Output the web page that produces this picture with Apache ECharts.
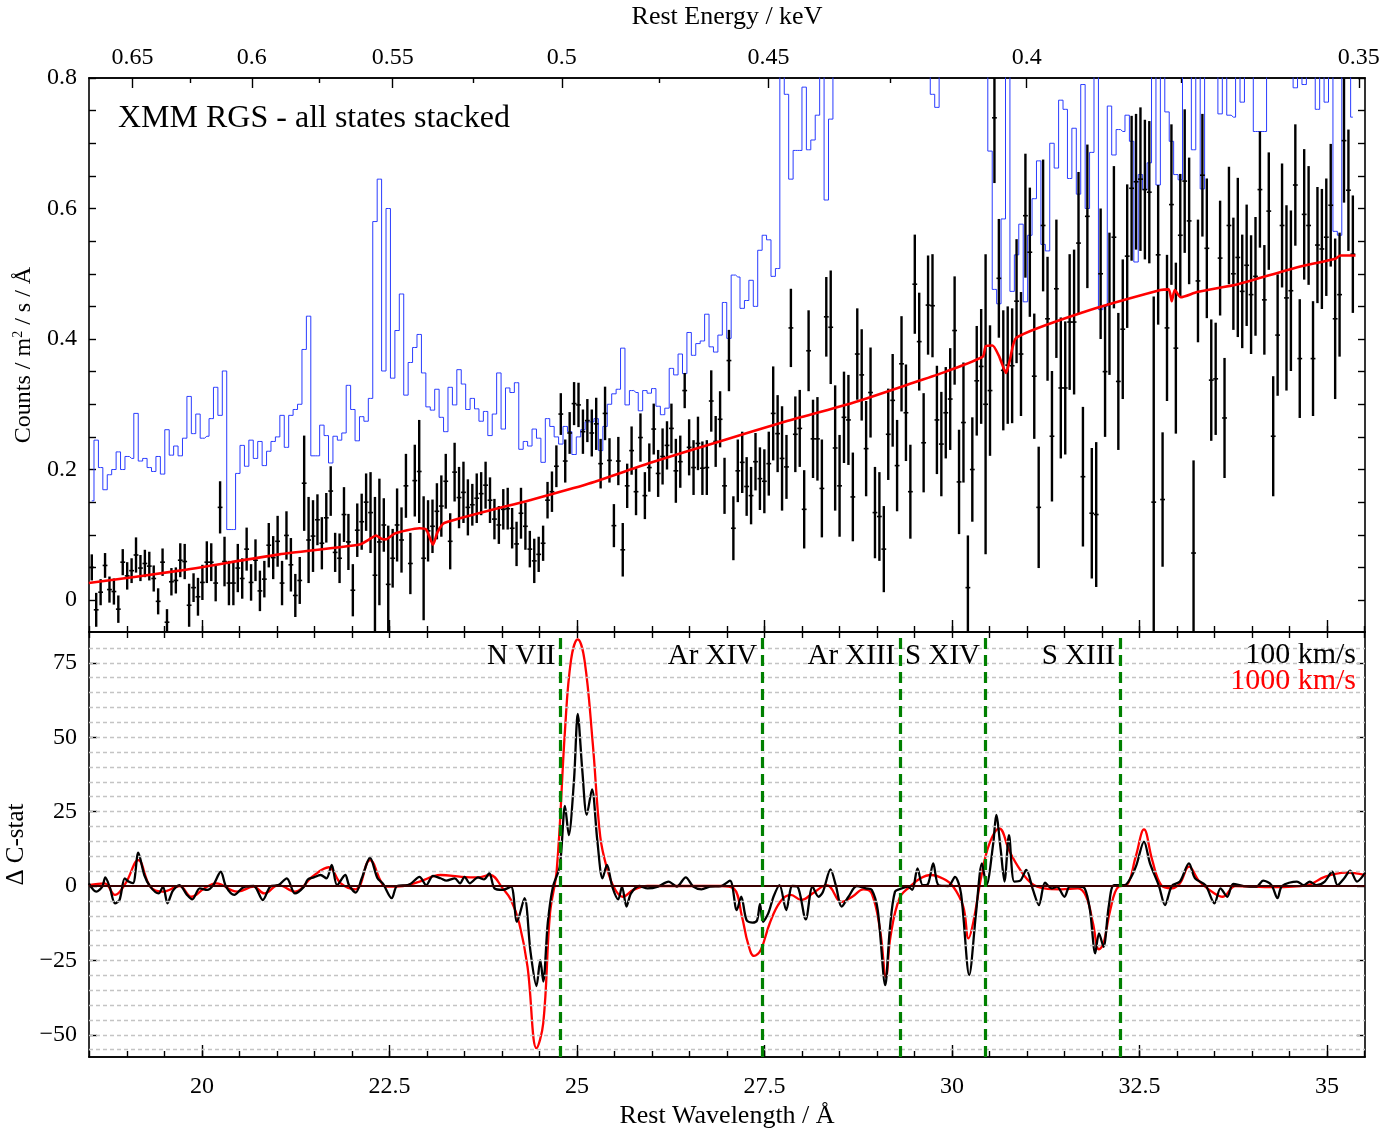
<!DOCTYPE html>
<html>
<head>
<meta charset="utf-8">
<script src="https://cdn.jsdelivr.net/npm/echarts@6/dist/echarts.min.js"></script>
<style>html,body{margin:0;padding:0;background:#fff}#c{width:1387px;height:1129px}</style>
</head>
<body>
<div id="c"></div>
<script>
// ---------- DATA ----------
const binWave = [
18.530,18.589,18.648,18.707,18.766,18.825,18.884,18.943,19.002,19.061,
19.120,19.179,19.238,19.297,19.356,19.415,19.474,19.533,19.592,19.651,
19.710,19.769,19.828,19.887,19.946,20.005,20.064,20.123,20.182,20.241,
20.300,20.359,20.418,20.477,20.536,20.595,20.654,20.713,20.772,20.831,
20.890,20.949,21.008,21.067,21.126,21.185,21.244,21.303,21.362,21.421,
21.480,21.539,21.598,21.657,21.716,21.775,21.834,21.893,21.952,22.011,
22.070,22.129,22.188,22.247,22.306,22.365,22.424,22.483,22.542,22.601,
22.660,22.719,22.778,22.837,22.896,22.955,23.014,23.073,23.132,23.191,
23.250,23.309,23.368,23.427,23.486,23.545,23.604,23.663,23.722,23.781,
23.840,23.899,23.958,24.017,24.076,24.135,24.194,24.253,24.312,24.371,
24.430,24.489,24.548,24.607,24.666,24.725,24.784,24.843,24.902,24.961,
25.020,25.079,25.138,25.197,25.256,25.315,25.374,25.433,25.492,25.551,
25.610,25.669,25.728,25.787,25.846,25.905,25.964,26.023,26.082,26.141,
26.200,26.259,26.318,26.377,26.436,26.495,26.554,26.613,26.672,26.731,
26.790,26.849,26.908,26.967,27.026,27.085,27.144,27.203,27.262,27.321,
27.380,27.439,27.498,27.557,27.616,27.675,27.734,27.793,27.852,27.911,
27.970,28.029,28.088,28.147,28.206,28.265,28.324,28.383,28.442,28.501,
28.560,28.619,28.678,28.737,28.796,28.855,28.914,28.973,29.032,29.091,
29.150,29.209,29.268,29.327,29.386,29.445,29.504,29.563,29.622,29.681,
29.740,29.799,29.858,29.917,29.976,30.035,30.094,30.153,30.212,30.271,
30.330,30.389,30.448,30.507,30.566,30.625,30.684,30.743,30.802,30.861,
30.920,30.979,31.038,31.097,31.156,31.215,31.274,31.333,31.392,31.451,
31.510,31.569,31.628,31.687,31.746,31.805,31.864,31.923,31.982,32.041,
32.100,32.159,32.218,32.277,32.336,32.395,32.454,32.513,32.572,32.631,
32.690,32.749,32.808,32.867,32.926,32.985,33.044,33.103,33.162,33.221,
33.280,33.339,33.398,33.457,33.516,33.575,33.634,33.693,33.752,33.811,
33.870,33.929,33.988,34.047,34.106,34.165,34.224,34.283,34.342,34.401,
34.460,34.519,34.578,34.637,34.696,34.755,34.814,34.873,34.932,34.991,
35.050,35.109,35.168,35.227,35.286,35.345];

const srcRate = [
0.050,-0.015,0.012,0.053,0.016,0.013,-0.014,0.058,0.037,0.045,
0.069,0.049,0.056,0.052,0.033,-0.002,0.058,-0.034,0.028,0.030,
0.061,0.059,-0.008,0.019,0.005,0.027,0.058,0.058,0.026,0.142,
0.059,0.026,0.026,0.049,0.033,0.078,0.027,0.061,0.014,0.032,
0.084,0.065,0.090,0.026,0.099,0.054,0.007,0.030,0.179,0.092,
0.098,0.123,0.087,0.126,0.167,0.073,0.064,0.131,0.089,0.015,
0.107,0.120,0.150,0.134,0.038,0.089,0.115,0.024,0.064,0.115,
0.092,0.175,0.056,0.183,0.197,0.064,0.106,0.113,0.136,0.144,
0.182,0.090,0.196,0.157,0.165,0.142,0.146,0.156,0.163,0.176,
0.153,0.124,0.115,0.139,0.140,0.110,0.086,0.133,0.113,0.078,
0.060,0.070,0.087,0.153,0.166,0.205,0.285,0.213,0.256,0.301,
0.299,0.258,0.275,0.256,0.270,0.209,0.286,0.214,0.114,0.213,
0.077,0.175,0.229,0.166,0.249,0.160,0.203,0.262,0.194,0.220,
0.237,0.263,0.198,0.212,0.321,0.234,0.203,0.240,0.202,0.203,
0.305,0.243,0.277,0.175,0.367,0.110,0.198,0.211,0.174,0.160,
0.212,0.186,0.182,0.209,0.286,0.255,0.217,0.204,0.417,0.254,
0.263,0.139,0.382,0.247,0.247,0.171,0.434,0.418,0.233,0.175,
0.280,0.276,0.158,0.377,0.345,0.232,0.318,0.134,0.128,0.078,
0.254,0.306,0.206,0.362,0.287,0.166,0.484,0.396,0.241,0.452,
0.451,0.276,0.239,0.287,0.308,0.413,0.181,0.272,0.019,0.200,
0.336,0.358,0.300,0.321,0.739,0.493,0.352,0.360,0.359,0.458,
0.377,0.589,0.533,0.343,0.142,0.574,0.431,0.251,0.477,0.325,
0.325,0.426,0.426,0.547,0.189,0.588,0.133,0.131,0.500,0.350,
0.454,0.556,0.335,0.415,0.527,0.631,0.641,0.645,0.629,0.625,
0.150,0.529,0.154,0.417,0.606,0.386,0.559,0.642,0.581,0.072,
0.489,0.651,0.539,0.337,0.339,0.524,0.279,0.574,0.500,0.525,
0.473,0.513,0.468,0.496,0.629,0.460,0.596,0.251,0.406,0.574,
0.463,0.474,0.636,0.370,0.591,0.574,0.370,0.544,0.538,0.556,
0.605,0.431,0.468,0.704,0.628,0.530];

const srcErr = [
.020,.026,.020,.019,.020,.020,.021,.020,.021,.019,
.027,.020,.021,.022,.020,.020,.021,.020,.021,.020,
.026,.027,.033,.022,.029,.027,.032,.029,.028,.040,
.038,.034,.034,.037,.031,.033,.028,.032,.031,.028,
.034,.033,.039,.034,.037,.041,.033,.036,.073,.066,
.055,.039,.040,.038,.038,.030,.038,.042,.043,.040,
.041,.043,.044,.062,.120,.097,.041,.090,.045,.056,
.050,.049,.047,.055,.079,.095,.047,.041,.043,.047,
.042,.043,.045,.047,.047,.043,.032,.038,.033,.036,
.035,.031,.029,.031,.032,.031,.034,.039,.036,.028,
.034,.027,.027,.028,.031,.032,.032,.033,.032,.033,
.034,.034,.033,.036,.040,.038,.041,.034,.033,.037,
.041,.034,.037,.036,.037,.036,.037,.039,.036,.043,
.037,.038,.049,.040,.027,.043,.042,.041,.041,.042,
.047,.039,.043,.043,.047,.049,.048,.047,.045,.044,
.044,.048,.049,.049,.072,.059,.080,.049,.060,.058,
.059,.060,.062,.060,.064,.075,.061,.087,.096,.078,
.070,.069,.068,.070,.070,.073,.069,.070,.068,.066,
.070,.071,.070,.073,.074,.072,.076,.075,.076,.076,
.079,.083,.080,.070,.078,.083,.080,.092,.080,.080,
.084,.088,.230,.100,.100,.091,.092,.090,.088,.095,
.095,.095,.099,.096,.093,.101,.095,.100,.106,.108,
.102,.104,.111,.109,.107,.110,.100,.111,.100,.100,
.109,.109,.105,.107,.110,.111,.104,.110,.107,.109,
.315,.107,.103,.112,.123,.131,.094,.110,.097,.142,
.094,.094,.107,.093,.086,.088,.092,.090,.086,.122,
.087,.093,.091,.091,.089,.084,.090,.092,.093,.095,
.142,.123,.093,.091,.100,.091,.088,.089,.092,.090,
.094,.123,.095,.095,.093,.090];

const bgRate = [
0.152,0.245,0.203,0.169,0.192,0.200,0.227,0.200,0.220,0.217,
0.286,0.213,0.217,0.203,0.197,0.220,0.193,0.261,0.222,0.236,
0.221,0.248,0.312,0.255,0.285,0.248,0.251,0.278,0.326,0.283,
0.351,0.108,0.108,0.194,0.237,0.205,0.245,0.217,0.243,0.206,
0.228,0.243,0.250,0.283,0.234,0.283,0.292,0.300,0.384,0.435,
0.221,0.221,0.268,0.252,0.210,0.251,0.245,0.256,0.329,0.292,
0.244,0.281,0.274,0.309,0.580,0.645,0.351,0.600,0.340,0.413,
0.469,0.314,0.364,0.387,0.407,0.348,0.296,0.291,0.323,0.280,
0.258,0.326,0.299,0.353,0.331,0.292,0.309,0.293,0.274,0.289,
0.252,0.285,0.348,0.262,0.325,0.318,0.333,0.231,0.243,0.236,
0.262,0.248,0.211,0.278,0.266,0.250,0.239,0.266,0.258,0.223,
0.250,0.261,0.273,0.273,0.278,0.229,0.266,0.300,0.316,0.323,
0.386,0.299,0.321,0.318,0.290,0.321,0.317,0.324,0.297,0.284,
0.294,0.355,0.345,0.377,0.347,0.410,0.375,0.393,0.397,0.438,
0.388,0.380,0.406,0.456,0.401,0.498,0.495,0.447,0.459,0.490,
0.450,0.536,0.559,0.552,0.496,0.508,0.950,0.775,0.645,0.689,
0.689,0.786,0.690,0.705,0.743,0.950,0.613,0.737,0.950,0.950,
0.950,0.950,0.950,0.950,0.950,0.950,0.950,0.950,0.950,0.950,
0.950,0.950,0.950,0.950,0.950,0.950,0.950,0.950,0.950,0.950,
0.775,0.755,0.950,0.950,0.950,0.950,0.950,0.950,0.950,0.950,
0.950,0.950,0.950,0.688,0.476,0.454,0.584,0.950,0.473,0.529,
0.576,0.457,0.559,0.615,0.673,0.545,0.535,0.700,0.662,0.766,
0.752,0.646,0.723,0.622,0.790,0.600,0.686,0.950,0.445,0.450,
0.757,0.682,0.721,0.718,0.743,0.703,0.518,0.652,0.629,0.670,
0.950,0.636,0.950,0.748,0.703,0.652,0.644,0.950,0.950,0.690,
0.950,0.630,0.950,0.950,0.950,0.745,0.950,0.743,0.740,0.950,
0.763,0.950,0.950,0.718,0.718,0.718,0.950,0.950,0.950,0.950,
0.950,0.950,0.785,0.950,0.790,0.950,0.950,0.752,0.950,0.763,
0.950,0.565,0.559,0.950,0.950,0.740];

const modelWave = [18.49,19.70,21.03,22.10,22.23,22.32,22.39,22.45,22.57,22.90,22.99,23.08,23.14,23.23,24.37,25.12,26.00,26.90,27.79,28.67,29.56,29.92,30.41,30.45,30.54,30.63,30.72,30.77,30.86,31.75,32.78,32.89,32.93,32.97,33.05,33.27,33.81,34.57,35.11,35.18,35.38];
const modelRate = [0.026,0.045,0.070,0.085,0.093,0.099,0.094,0.093,0.102,0.110,0.108,0.085,0.104,0.118,0.153,0.177,0.211,0.243,0.274,0.302,0.336,0.350,0.373,0.389,0.390,0.373,0.348,0.367,0.402,0.441,0.475,0.476,0.458,0.475,0.464,0.472,0.484,0.509,0.523,0.528,0.528];

const dc100Wave = [18.49,18.59,18.67,18.71,18.77,18.84,18.90,18.97,19.02,19.08,19.15,19.23,19.31,19.42,19.48,19.54,19.61,19.70,19.80,19.87,19.97,20.07,20.15,20.25,20.32,20.43,20.53,20.58,20.69,20.81,20.91,21.02,21.13,21.24,21.36,21.41,21.49,21.58,21.66,21.73,21.80,21.91,21.96,22.05,22.13,22.24,22.34,22.41,22.53,22.60,22.74,22.79,22.90,22.99,23.08,23.18,23.26,23.37,23.44,23.50,23.57,23.68,23.76,23.83,23.90,24.01,24.12,24.20,24.30,24.38,24.46,24.51,24.55,24.61,24.68,24.77,24.84,24.89,24.96,25.01,25.07,25.13,25.20,25.27,25.34,25.40,25.47,25.55,25.60,25.66,25.72,25.83,25.94,26.08,26.22,26.33,26.45,26.55,26.66,26.77,26.92,27.04,27.13,27.19,27.26,27.34,27.40,27.44,27.48,27.55,27.62,27.70,27.79,27.87,27.94,28.05,28.14,28.22,28.28,28.38,28.45,28.53,28.62,28.73,28.85,28.93,29.01,29.11,29.17,29.24,29.33,29.41,29.47,29.54,29.61,29.68,29.75,29.82,29.95,30.04,30.12,30.23,30.32,30.40,30.46,30.55,30.59,30.65,30.70,30.76,30.83,30.91,30.99,31.08,31.16,31.24,31.33,31.40,31.50,31.57,31.68,31.77,31.84,31.91,31.96,32.02,32.09,32.16,32.30,32.39,32.46,32.56,32.64,32.76,32.84,32.93,33.04,33.16,33.24,33.38,33.50,33.58,33.67,33.75,33.89,34.06,34.15,34.26,34.34,34.40,34.60,34.69,34.77,34.86,34.97,35.07,35.14,35.23,35.31,35.40,35.51];
const dc100 = [0.9,-1.9,-0.2,2.9,-0.4,-5.8,-4.7,2.6,1.5,1.0,11.2,3.7,-0.2,-2.5,-0.2,-5.8,-1.6,0.3,-3.0,-4.5,-0.8,-1.3,0.3,4.8,-0.2,-3.0,-0.8,-0.2,0,-4.7,-0.2,0.3,2.6,-2.5,-0.2,2.2,2.9,3.7,2.6,7.1,0.3,3.7,0.3,-2.2,2.6,9.5,2.6,0.9,-4.1,0,0.3,0.9,3.1,0.3,3.4,2.6,1.8,2.6,0.9,3.1,0.9,2.9,2.2,4.3,-0.8,-1.3,-0.2,-12.0,-4.1,-22.1,-33.6,-24.9,-32.1,-12.5,-0.2,6.5,26.9,17.1,35.6,57.8,39.0,23.9,32.5,15.5,2.6,7.1,-0.2,-4.5,-0.2,-6.9,-2.5,0,-0.8,-0.2,1.5,-0.2,2.9,-0.2,-1.1,-0.2,0,1.8,-8.1,-3.6,-11.4,-12.3,-11.6,-6.0,-12.0,-9.2,-3.6,0.3,-8.1,0,-0.2,-11.2,-0.2,-3.6,-1.9,5.6,0.3,-6.9,-3.6,0,-0.8,-1.3,-8.1,-33.3,-14.8,-1.9,-0.8,-0.2,-1.3,5.9,0.3,0.7,7.6,0.3,0,3.1,-2.5,-29.9,-9.2,7.6,0.3,14.3,23.9,12.1,1.5,17.1,1.5,1.8,5.4,-1.3,-6.4,1.1,-0.8,-0.2,-3.6,-0.2,-0.2,-0.8,-8.1,-22.6,-15.9,-20.4,-6.9,0.3,0.3,3.1,7.1,14.9,7.6,0,-6.4,0,1.5,7.6,2.6,0.3,-5.8,-0.8,-3.6,0.7,0,-0.2,1.8,0.3,-4.1,0,1.5,0.3,1.5,0.3,1.5,4.8,0.3,2.6,5.2,1.5,4.5];

const dc1000Wave = [18.49,18.70,18.84,18.98,19.15,19.31,19.48,19.70,19.86,20.03,20.19,20.47,20.69,20.83,21.02,21.24,21.47,21.69,21.85,22.05,22.24,22.46,22.68,22.90,23.18,23.46,23.68,23.84,24.01,24.12,24.23,24.34,24.46,24.55,24.64,24.73,24.84,24.92,25.01,25.10,25.21,25.31,25.40,25.50,25.61,25.75,25.94,26.92,27.09,27.20,27.28,27.36,27.45,27.57,27.71,27.85,27.99,28.14,28.33,28.53,28.67,28.82,28.93,29.04,29.12,29.18,29.30,29.44,29.58,29.72,29.87,30.01,30.15,30.22,30.29,30.39,30.50,30.63,30.77,30.91,31.06,31.23,31.45,31.68,31.79,31.88,31.96,32.02,32.11,32.22,32.33,32.45,32.56,32.67,32.79,32.93,33.04,33.16,33.30,33.50,33.61,33.78,34.29,34.74,34.97,35.25,35.51];
const dc1000 = [0.3,0.9,-3.0,0.9,8.7,-0.2,-1.9,0,-3.6,-0.8,0.9,-1.9,-0.2,-2.5,0.3,-1.9,3.1,6.3,0.9,-1.1,8.7,-0.2,0,1.5,3.7,3.1,2.9,3.7,-0.8,-4.7,-12.5,-27.1,-54.5,-46.1,-9.2,5.4,52.4,75.9,82.9,75.9,47.9,16.6,5.9,-0.8,-3.6,-1.3,0,0,-0.8,-10.3,-19.3,-23.5,-21.5,-12.5,-5.3,-3.0,-4.7,-2.5,0.3,-5.3,-3.6,-1.1,-2.5,-14.6,-30.5,-17.0,-4.1,-0.2,2.6,3.7,2.6,0,-6.9,-17.6,-11.4,3.1,14.3,19.4,11.5,5.4,0.9,-0.8,-1.1,-0.8,-3.6,-12.5,-21.3,-19.3,-8.1,-0.2,0.3,9.9,19.0,8.7,0.3,-0.8,0.9,6.5,1.5,-2.5,-3.6,0,-0.4,0.3,3.1,4.5,3.7];

const lineWave = [24.78, 27.47, 29.31, 30.44, 32.24];
const lineNames = ['N VII', 'Ar XIV', 'Ar XIII', 'S XIV', 'S XIII'];

const waveTickLabels = [20, 22.5, 25, 27.5, 30, 32.5, 35];
const waveMinorTicks = [18.5,19,19.5,20,20.5,21,21.5,22,22.5,23,23.5,24,24.5,25,25.5,26,26.5,27,27.5,28,28.5,29,29.5,30,30.5,31,31.5,32,32.5,33,33.5,34,34.5,35,35.5];
const energyTickLabels = [0.65, 0.6, 0.55, 0.5, 0.45, 0.4, 0.35];
const energyMinorTicks = [0.625, 0.575, 0.525, 0.475, 0.425, 0.375];
const countTicks = [0,0.05,0.1,0.15,0.2,0.25,0.3,0.35,0.4,0.45,0.5,0.55,0.6,0.65,0.7,0.75,0.8];
const countTickLabels = [0, 0.2, 0.4, 0.6, 0.8];
const dcTickLabels = [-50, -25, 0, 25, 50, 75];
const dcGridLines = [-55,-50,-45,-40,-35,-30,-25,-20,-15,-10,-5,5,10,15,20,25,30,35,40,45,50,55,60,65,70,75,80];

// ---------- CHART ----------
const HC = 12.3984;
const XMIN = 18.493, XMAX = 35.507;
const FONT = 'Liberation Serif';
const chart = echarts.init(document.getElementById('c'), null, {renderer: 'canvas'});

const axLine = {show: true, onZero: false, lineStyle: {color: '#000', width: 1.6}};
function tick(len, vals) {
  return {show: true, inside: true, length: len, customValues: vals, lineStyle: {color: '#000', width: 1.4}};
}
const noLabel = {show: false};
const noSplit = {show: false};
const lblStyle = {color: '#000', fontSize: 24, fontFamily: FONT};
const nameStyle = {color: '#000', fontSize: 26, fontFamily: FONT};

function xAx(grid, pos, t, label, extra) {
  return Object.assign({type: 'value', gridIndex: grid, position: pos, min: XMIN, max: XMAX,
    axisLine: axLine, axisTick: t, axisLabel: label || noLabel, splitLine: noSplit}, extra || {});
}

const energyMajorPos = energyTickLabels.map(e => HC / e);
const energyMinorPos = energyMinorTicks.map(e => HC / e);

const option = {
  animation: false,
  backgroundColor: '#fff',
  textStyle: {fontFamily: FONT},
  grid: [
    {left: 89, top: 78, width: 1276, height: 554, containLabel: false, outerBoundsMode: 'none'},
    {left: 89, top: 632, width: 1276, height: 425, containLabel: false, outerBoundsMode: 'none'}
  ],
  xAxis: [
    xAx(0, 'bottom', tick(6, waveMinorTicks)),
    xAx(0, 'bottom', tick(12, waveTickLabels)),
    xAx(0, 'top', tick(5, energyMinorPos)),
    xAx(0, 'top', tick(10, energyMajorPos),
      Object.assign({show: true, margin: 8, customValues: energyMajorPos,
        formatter: v => String(parseFloat((HC / v).toFixed(3)))}, lblStyle),
      {name: 'Rest Energy / keV', nameLocation: 'middle', nameGap: 48, nameTextStyle: nameStyle}),
    xAx(1, 'top', tick(6, waveMinorTicks)),
    xAx(1, 'bottom', tick(6, waveMinorTicks)),
    xAx(1, 'bottom', tick(12, waveTickLabels),
      Object.assign({show: true, margin: 18, customValues: waveTickLabels}, lblStyle),
      {name: 'Rest Wavelength / \u00C5', nameLocation: 'middle', nameGap: 46, nameTextStyle: nameStyle})
  ],
  yAxis: [
    {type: 'value', gridIndex: 0, position: 'left', min: -0.049, max: 0.8,
     axisLine: axLine, axisTick: tick(7, countTicks),
     axisLabel: Object.assign({show: true, margin: 12, customValues: countTickLabels}, lblStyle),
     splitLine: noSplit,
     name: 'Counts / m{sup|2} / s / \u00C5', nameLocation: 'middle', nameGap: 50,
     nameTextStyle: {color: '#000', fontSize: 24, fontFamily: FONT,
       rich: {sup: {fontSize: 14, fontFamily: FONT, color: '#000', padding: [0, 0, 11, 0]}}}},
    {type: 'value', gridIndex: 0, position: 'right', min: -0.049, max: 0.8,
     axisLine: axLine, axisTick: tick(7, countTicks), axisLabel: noLabel, splitLine: noSplit},
    {type: 'value', gridIndex: 1, position: 'left', min: -57.45, max: 85.35,
     axisLine: axLine, axisTick: tick(8, dcTickLabels),
     axisLabel: Object.assign({show: true, margin: 12, customValues: dcTickLabels,
       formatter: v => (v < 0 ? '\u2212' + Math.abs(v) : String(v))}, lblStyle),
     splitLine: noSplit,
     name: '\u0394 C-stat', nameLocation: 'middle', nameGap: 50,
     nameTextStyle: {color: '#000', fontSize: 25, fontFamily: FONT}},
    {type: 'value', gridIndex: 1, position: 'right', min: -57.45, max: 85.35,
     axisLine: axLine, axisTick: tick(8, dcTickLabels), axisLabel: noLabel, splitLine: noSplit}
  ],
  series: [
    {
      name: 'background', type: 'line', xAxisIndex: 0, yAxisIndex: 0, z: 2,
      data: binWave.map((w, i) => [w, bgRate[i]]),
      step: 'middle', symbol: 'none', clip: true, silent: true,
      lineStyle: {color: '#2a3cff', width: 1}
    },
    {
      name: 'source', type: 'custom', xAxisIndex: 0, yAxisIndex: 0, z: 3,
      data: binWave.map((w, i) => [w, srcRate[i], srcErr[i]]),
      encode: {x: 0, y: 1},
      renderItem: function (params, api) {
        const x = api.value(0), y = api.value(1), e = api.value(2);
        const cs = params.coordSys;
        const top = api.coord([x, y + e]);
        const bot = api.coord([x, y - e]);
        const c = api.coord([x, y]);
        const y1 = Math.max(top[1], cs.y), y2 = Math.min(bot[1], cs.y + cs.height);
        const children = [];
        if (y2 > y1) {
          children.push({type: 'line', shape: {x1: c[0], y1: y1, x2: c[0], y2: y2},
            style: {stroke: '#000', lineWidth: 2.4}});
        }
        if (c[1] >= cs.y && c[1] <= cs.y + cs.height) {
          children.push({type: 'line', shape: {x1: c[0] - 2.4, y1: c[1], x2: c[0] + 2.4, y2: c[1]},
            style: {stroke: '#000', lineWidth: 1.6}});
        }
        return {type: 'group', children: children};
      }
    },
    {
      name: 'model', type: 'line', xAxisIndex: 0, yAxisIndex: 0, z: 4,
      data: modelWave.map((w, i) => [w, modelRate[i]]),
      symbol: 'none', smooth: 0.2, silent: true,
      lineStyle: {color: '#ff0000', width: 2.6}
    },
    {
      name: 'grid', type: 'line', xAxisIndex: 5, yAxisIndex: 2, z: 1,
      data: [[XMIN, 0]], symbol: 'none', silent: true, lineStyle: {width: 0},
      markLine: {silent: true, symbol: 'none', animation: false,
        label: {show: false},
        lineStyle: {color: '#c4c4c4', type: [4, 3], width: 1.4},
        data: dcGridLines.map(v => ({yAxis: v}))}
    },
    {
      name: 'zero', type: 'line', xAxisIndex: 5, yAxisIndex: 2, z: 2,
      data: [[XMIN, 0]], symbol: 'none', silent: true, lineStyle: {width: 0},
      markLine: {silent: true, symbol: 'none', animation: false,
        label: {show: false},
        lineStyle: {color: '#3a0000', type: 'solid', width: 2},
        data: [{yAxis: 0}]}
    },
    {
      name: '1000 km/s', type: 'line', xAxisIndex: 5, yAxisIndex: 2, z: 3,
      data: dc1000Wave.map((w, i) => [w, dc1000[i]]),
      symbol: 'none', smooth: 0.4, silent: true, clip: true,
      lineStyle: {color: '#ff0000', width: 2.3}
    },
    {
      name: '100 km/s', type: 'line', xAxisIndex: 5, yAxisIndex: 2, z: 4,
      data: dc100Wave.map((w, i) => [w, dc100[i]]),
      symbol: 'none', smooth: 0.3, silent: true, clip: true,
      lineStyle: {color: '#000', width: 2.3}
    },
    {
      name: 'lines', type: 'line', xAxisIndex: 5, yAxisIndex: 2, z: 5,
      data: [[XMIN, 0]], symbol: 'none', silent: true, lineStyle: {width: 0},
      markLine: {silent: true, symbol: 'none', animation: false,
        label: {show: false},
        lineStyle: {color: '#008000', type: [11, 6], width: 3.2},
        data: lineWave.map(w => ({xAxis: w}))}
    },
    {
      name: 'lineLabels', type: 'scatter', xAxisIndex: 5, yAxisIndex: 2, z: 6,
      data: lineWave.map(w => [w, 77.2]), symbolSize: 0, silent: true,
      itemStyle: {opacity: 1},
      label: {show: true, position: 'left', distance: 5, opacity: 1,
        formatter: p => lineNames[p.dataIndex],
        color: '#000', fontSize: 29, fontFamily: FONT}
    }
  ],
  graphic: [
    {type: 'text', left: 118, top: 103, z: 10,
     style: {text: 'XMM RGS - all states stacked', font: '32px "Liberation Serif"', fill: '#000'}},
    {type: 'text', right: 31, top: 640, z: 10,
     style: {text: '100 km/s', font: '30px "Liberation Serif"', fill: '#000'}},
    {type: 'text', right: 31, top: 666, z: 10,
     style: {text: '1000 km/s', font: '30px "Liberation Serif"', fill: '#ff0000'}}
  ]
};
chart.setOption(option);
</script>
</body>
</html>
